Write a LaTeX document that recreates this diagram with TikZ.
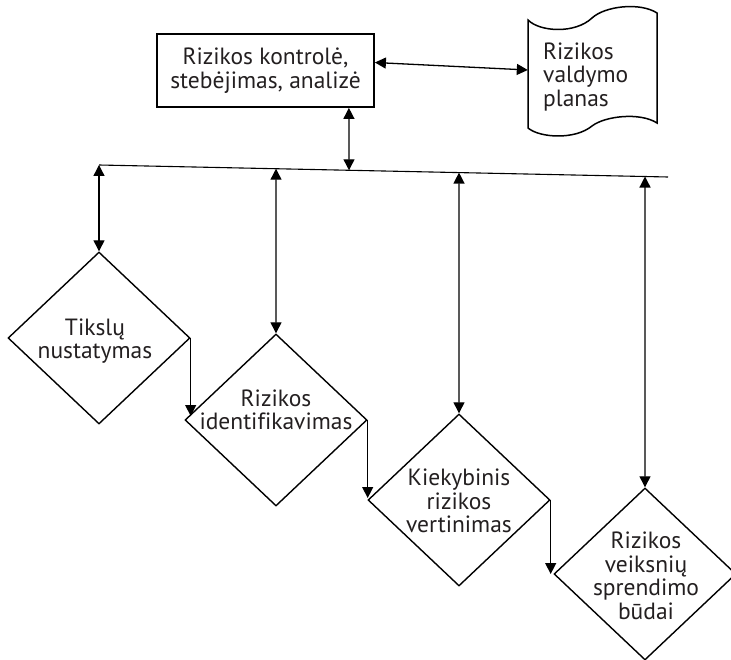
\documentclass[tikz,border=0pt]{standalone}
\usepackage{fontspec}
\setmainfont[Ligatures=NoCommon]{PT Sans}
\usetikzlibrary{shapes.geometric,arrows.meta,calc}
\definecolor{ink}{RGB}{35,31,32}
\begin{document}
\begin{tikzpicture}[x=1pt,y=-1pt,
  txt/.style={font=\fontsize{23.5}{23.5}\selectfont, text=ink, align=center, inner sep=0pt},
  dia/.style={shape=diamond, draw, line width=1.4pt, minimum width=182pt, minimum height=172pt, inner sep=0pt},
  box/.style={txt, draw, line width=1.8pt, minimum width=217pt, minimum height=73pt},
  conn/.style={line width=1.3pt},
  dbl/.style={conn, {Triangle[length=11pt,width=11pt]}-{Triangle[length=11pt,width=11pt]}},
  one/.style={conn, -{Triangle[length=11pt,width=11pt]}},
]
\useasboundingbox (0,0) rectangle (731,660);

% top box and scroll
\node[box] (rect) at (265.5,70.5) {Rizikos kontrolė,\\stebėjimas, analizė};
\node[minimum width=129pt, minimum height=110pt, inner sep=0pt] (scroll) at (592.5,70) {};
\draw[line width=1.5pt] (528,20) .. controls (540,32) and (575,34) .. (592,18)
  .. controls (605,6) and (640,2) .. (657,13) -- (657,123)
  .. controls (640,112) and (605,116) .. (592,126)
  .. controls (575,140) and (540,138) .. (528,128) -- cycle;
\node[txt, align=left, anchor=west] (scrollT) at (543,77) {Rizikos\\valdymo\\planas};

% horizontal bus line
\coordinate (L0) at (99,165);
\coordinate (L1) at (668,177);
\draw[line width=1.1pt] (L0) -- (L1);
\coordinate (m0) at ($(L0)!0.4394!(L1)$);
\coordinate (m2) at ($(L0)!0.3111!(L1)$);
\coordinate (m3) at ($(L0)!0.6327!(L1)$);
\coordinate (m4) at ($(L0)!0.9596!(L1)$);

% diamonds
\node[dia] (d1) at (99,338) {};
\node[dia] (d2) at (276,420) {};
\node[dia] (d3) at (459,500) {};
\node[dia] (d4) at (645,574) {};
\node[txt] (t1) at (95,341) {Tikslų\\nustatymas};
\node[txt] (t2) at (276,410) {Rizikos\\identifikavimas};
\node[txt] (t3) at (459,501) {Kiekybinis\\rizikos\\vertinimas};
\node[txt] (t4) at (646,576) {Rizikos\\veiksnių\\sprendimo\\būdai};

% connectors
\draw[dbl] ([yshift=8pt]rect.east) -- (scroll.west);
\draw[dbl] ([xshift=-26pt]rect.south east) -- (m0);
\draw[dbl] (L0) -- (d1.north);
\draw[dbl] (m2) -- (d2.north);
\draw[dbl] (m3) -- (d3.north);
\draw[dbl] (m4) -- (d4.north);
\draw[one] (d1.east) -- ($(d1.east |- d2.west)+(0,-4)$);
\draw[one] (d2.east) -- ($(d2.east |- d3.west)+(0,-2)$);
\draw[one] (d3.east) -- (d3.east |- d4.west);
\end{tikzpicture}
\end{document}
